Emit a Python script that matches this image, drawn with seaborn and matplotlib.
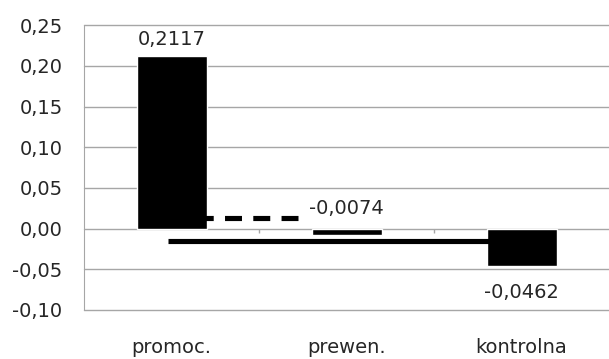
import matplotlib
matplotlib.use("Agg")
import matplotlib.pyplot as plt
import seaborn as sns
import pandas as pd

# dane
grupy = ["promoc.", "prewen.", "kontrolna"]
wartosci = [0.2117, -0.0074, -0.0462]
etykiety = ["0,2117", "-0,0074", "-0,0462"]

# linie pomocnicze (przerywana i ciągła)
linia_przer_x = [-0.02, 0.72]
linia_przer_y = [0.0128, 0.0128]
linia_ciagla_x = [-0.02, 1.9]
linia_ciagla_y = [-0.0147, -0.0147]

yticks = [-0.10, -0.05, 0.00, 0.05, 0.10, 0.15, 0.20, 0.25]


def main():
    sns.set_style("white")
    plt.rcParams['font.family'] = ['DejaVu Sans']

    df = pd.DataFrame({'grupa': grupy, 'wartosc': wartosci})

    fig = plt.figure(figsize=(6.09, 3.59), dpi=100)
    ax = fig.add_axes([0.138, 0.1365, 0.862, 0.7935])

    grid_c = '#a6a6a6'
    for t in yticks:
        ax.axhline(t, color=grid_c, lw=1, zorder=0, clip_on=False)

    sns.barplot(x='grupa', y='wartosc', data=df, color='black',
                width=0.4, saturation=1, ax=ax, zorder=2)

    # podziałki kategorii na osi zera
    ax.vlines([0.5, 1.5], -0.006, 0, color=grid_c, lw=1, zorder=1)

    ax.plot(linia_przer_x, linia_przer_y, color='black', lw=3.7,
            dashes=(3.3, 2.2), zorder=3, solid_capstyle='butt')
    ax.plot(linia_ciagla_x, linia_ciagla_y, color='black', lw=3.7,
            zorder=3, solid_capstyle='butt')

    # etykiety danych
    fs = 14
    ax.text(0, wartosci[0] + 0.0137, etykiety[0], ha='center', va='baseline', fontsize=fs)
    ax.text(1, 0.0179, etykiety[1], ha='center', va='baseline', fontsize=fs)
    ax.text(2, wartosci[2] - 0.039, etykiety[2], ha='center', va='baseline', fontsize=fs)

    ax.set_xlim(-0.5, 2.5)
    ax.set_ylim(-0.10, 0.25)
    ax.set_yticks(yticks)
    ax.set_yticklabels([f"{t:.2f}".replace('.', ',') for t in yticks], fontsize=fs)
    ax.tick_params(axis='y', length=4.5, color=grid_c, pad=11)
    ax.tick_params(axis='x', length=0, pad=20, labelsize=fs)
    ax.set_xlabel('')
    ax.set_ylabel('')

    for s in ['top', 'right', 'bottom']:
        ax.spines[s].set_visible(False)
    ax.spines['left'].set_color(grid_c)

    fig.savefig('out.png', dpi=100)


if __name__ == '__main__':
    main()
